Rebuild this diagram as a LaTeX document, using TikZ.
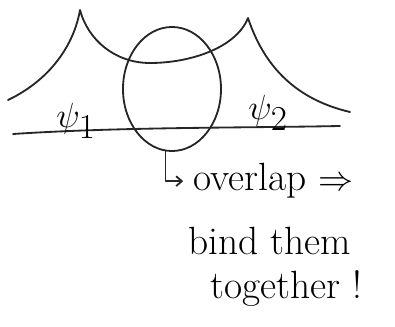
\documentclass[tikz,border=0pt]{standalone}
\usepackage{amsmath,amssymb}
\usepackage{tikz}
\usetikzlibrary{arrows.meta,shapes.geometric,positioning}
\tikzset{
  % pen stroke
  pen/.style={line width=1.3pt, line cap=round, line join=round, black!85},
  % overlap region
  blob/.style={ellipse, draw, line width=1.3pt, black!85, minimum width=2.45cm, minimum height=3.1cm, inner sep=0pt},
  % wave function label
  wlabel/.style={font=\fontsize{34}{36}\selectfont, inner sep=0pt},
  % handwritten note
  note/.style={font=\fontsize{28}{30}\selectfont, inner sep=0pt, anchor=base west},
}
\begin{document}
\begin{tikzpicture}[x=0.025cm, y=-0.025cm]
  \useasboundingbox (0,0) rectangle (395,327);
  % the two bumps
  \draw[pen] (8,100) .. controls (50,80) and (74,45) .. (80,10)
    .. controls (88,40) and (115,63) .. (150,63)
    .. controls (190,63) and (236,48) .. (248,18)
    .. controls (262,60) and (290,98) .. (350,112);
  % axis
  \coordinate (axl) at (13,134);
  \coordinate (axr) at (340,126);
  \draw[pen] (axl) .. controls (120,127) and (240,128) .. (axr);
  \node[wlabel] (psi1) at (76,121) {$\psi_1$};
  \node[wlabel] (psi2) at (268,113) {$\psi_2$};

  % overlap region
  \node[blob] (ov) at (172,89) {};

  % notes
  \node[note] (n1) at (193,191) {overlap $\Rightarrow$};
  \node[note] (n2) at (188,255) {bind them};
  \node[note] (n3) at (210,299) {together !};
  \draw[pen, -{Straight Barb[length=4pt,width=7pt]}] (ov.-96) |- ([xshift=-7pt,yshift=7pt]n1.base west);
\end{tikzpicture}
\end{document}
